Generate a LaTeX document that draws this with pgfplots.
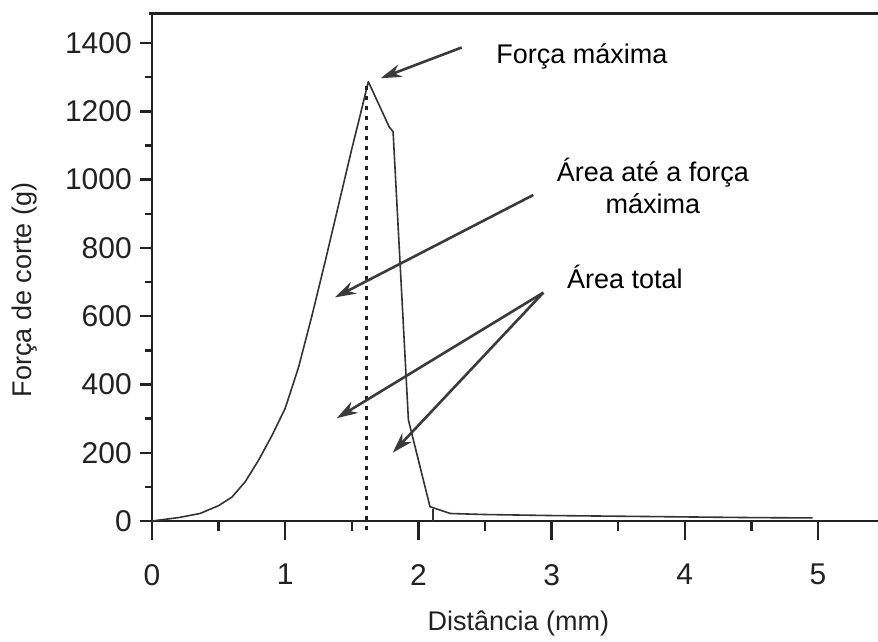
\documentclass[border=0pt]{standalone}
\usepackage{pgfplots}
\pgfplotsset{compat=1.18}
\usepackage{fontspec}
\setmainfont{Liberation Sans}
\usetikzlibrary{arrows.meta}
\definecolor{ink}{HTML}{222222}
\definecolor{curve}{HTML}{333333}
\definecolor{arr}{HTML}{3A3A3A}
\begin{document}
\begin{tikzpicture}
\begin{axis}[
  at={(0pt,0pt)}, anchor=origin,
  scale only axis, width=732.6pt, height=508pt,
  xmin=0, xmax=5.5, ymin=0, ymax=1488,
  axis x line*=bottom, axis y line*=left,
  axis line style={ink, line width=2.4pt, -},
  clip=false,
  xtick={0,1,2,3,4,5}, minor xtick={0.5,1.5,2.5,3.5,4.5},
  ytick={0,200,400,600,800,1000,1200,1400},
  minor ytick={100,300,500,700,900,1100,1300},
  tick align=outside,
  major tick length=12pt, minor tick length=7pt,
  tick style={ink, line width=2.4pt},
  xtick style={/pgfplots/major tick length=19pt, /pgfplots/minor tick length=10pt},
  /pgf/number format/assume math mode=true,
  /pgf/number format/1000 sep={},
  ticklabel style={font=\fontsize{30}{34}\selectfont, text=ink},
  yticklabel style={anchor=east, inner sep=0pt, xshift=-8pt},
  xticklabel style={anchor=north, inner sep=0pt, yshift=-31pt},
  xlabel={Distância (mm)},
  ylabel={Força de corte (g)},
  every axis x label/.style={at={(axis cs:2.75,-322)}, anchor=base, font=\fontsize{27}{32}\selectfont, text=ink},
  every axis y label/.style={at={(axis cs:-0.901,677)}, anchor=base, rotate=90, font=\fontsize{27}{32}\selectfont, text=ink},
]
% main curve
\addplot[curve, line width=1.6pt, line join=round] coordinates {
  (0,0) (0.2,10) (0.36,22) (0.5,45) (0.6,70) (0.7,115) (0.8,178)
  (0.9,250) (1.0,330) (1.1,450) (1.2,600) (1.3,760) (1.4,925) (1.5,1090)
  (1.56,1184) (1.624,1287) (1.78,1155) (1.81,1140) (1.925,296) (2.087,42) (2.24,22)
  (2.5,19) (3,16) (3.5,14) (4,12) (4.5,10) (4.96,9)
};
% vertical line at end of peak area
\addplot[curve, line width=1.6pt] coordinates {(2.11,0) (2.11,36)};
% dotted line at max force
\addplot[ink, line width=2.6pt, dash pattern=on 4pt off 6pt] coordinates {(1.61,-25) (1.61,1280)};
% top frame line
\addplot[ink, line width=3pt, forget plot] coordinates {(-0.02,1488) (5.6,1488)};
% annotations
\node[anchor=base, font=\fontsize{27}{32}\selectfont, text=black] at (axis cs:3.228,1341) {Força máxima};
\node[anchor=base, font=\fontsize{27}{32}\selectfont, text=black] at (axis cs:3.761,994) {Área até a força};
\node[anchor=base, font=\fontsize{27}{32}\selectfont, text=black] at (axis cs:3.761,902) {máxima};
\node[anchor=base, font=\fontsize{27}{32}\selectfont, text=black] at (axis cs:3.551,681) {Área total};
\draw[arr, line width=2.6pt, -{Stealth[length=21pt, width=13pt]}] (axis cs:2.325,1387) -- (axis cs:1.717,1297);
\draw[arr, line width=2.6pt, -{Stealth[length=21pt, width=13pt]}] (axis cs:2.863,955) -- (axis cs:1.374,655);
\draw[arr, line width=2.6pt, -{Stealth[length=21pt, width=13pt]}] (axis cs:2.938,669) -- (axis cs:1.387,301);
\draw[arr, line width=2.6pt, -{Stealth[length=21pt, width=13pt]}] (axis cs:2.938,669) -- (axis cs:1.807,200);
\end{axis}
\pgfresetboundingbox
\path[use as bounding box] (-152pt,-120pt) rectangle (726pt,521pt);
\end{tikzpicture}
\end{document}
